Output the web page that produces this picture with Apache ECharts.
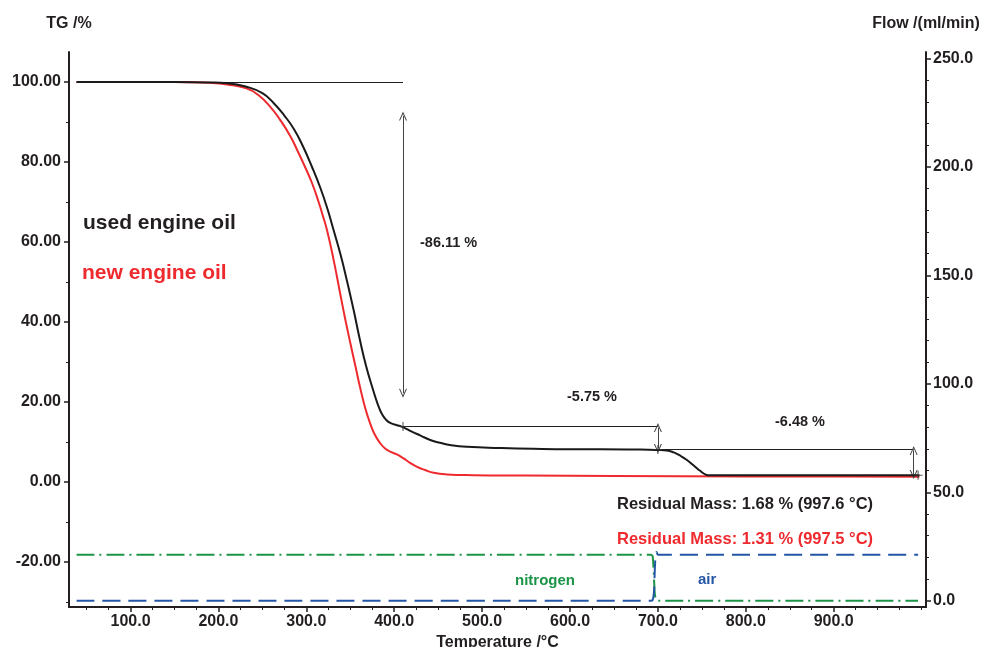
<!DOCTYPE html>
<html>
<head>
<meta charset="utf-8">
<script src="https://cdn.jsdelivr.net/npm/echarts@6/dist/echarts.min.js"></script>
<style>html,body{margin:0;padding:0;background:#fff;}#c{width:981px;height:647px;}</style>
</head>
<body>
<div id="c"></div>
<script>
// ---- data ----
var usedOil = [
  [38.6,100],[150,100],[190,99.9],[210,99.7],[232,98.8],[250,97.2],[263,94.7],[275,91.6],[286,88.2],
  [296,84],[306,79],[316,73.5],[324,68.3],[331,63],[339,56.8],[346,50.5],[354,42.8],[361,35.5],
  [368,29],[376,23],[381,19.6],[386,17],[391,15.5],[396,14.7],[403,14.2],[409,13.8],[420,12.6],
  [430,11.6],[441,10.5],[452,9.8],[465,9.2],[483,8.8],[520,8.5],
  [558,8.3],[600,8.2],[634,8.2],[680,8.1],[700,8.0],[710,7.9],[718,7.4],[726,6.5],[733,5.5],[742,3.9],
  [748,2.8],[753,2.0],[757,1.7],[800,1.68],[900,1.68],[997.6,1.68]
];
var newOil = [
  [38.6,100],[150,100],[190,99.8],[210,99.4],[232,98.4],[245,96.8],[259,93.8],[270,90.6],[282,86.4],
  [290,82.8],[297,79.5],[306,75],[314,70],[319,66.4],[323.5,63],[331,55.6],[338.6,47],[344,41],[350,34.8],
  [356,28.8],[361,23.8],[367,18.5],[372.7,14.6],[378,11.8],[384,9.7],[390,8.3],[395.5,7.6],[403,6.9],
  [410.6,5.9],[418,4.8],[426,3.8],[435,3.0],[445,2.3],[460,1.9],[490,1.7],[550,1.6],[650,1.5],
  [800,1.4],[900,1.35],[997.5,1.31]
];
var nitrogenFlow = [[38.6,21.2],[692,21.2],[694,20.5],[695,15],[696.5,3],[698,0.3],[700,0],[996,0]];
var airFlow = [[38.6,0],[692,0],[694,0.3],[695.5,4],[696.5,15],[697.5,21.5],[698.5,22.5],[700,21.2],[996,21.2]];

// step analysis annotations
var stepLines = [ [[38.6,100],[410,100]], [[410,13.89],[700,13.89]], [[700,8.14],[991,8.14]] ];
var stepArrows = [ [[410,91.5],[410,22.2]], [[700,13.6],[700,8.4]], [[991,7.9],[991,1.9]] ];
var stepMarks = [[410,13.89],[700,8.14],[996,1.68]];

var xMajor = [100,200,300,400,500,600,700,800,900];
var xMinor = [50,75,125,150,175,225,250,275,325,350,375,425,450,475,525,550,575,625,650,675,725,750,775,825,850,875,925,950,975,1000];
var tgMajor = [-20,0,20,40,60,80,100];
var tgMinor = [-30,-10,10,30,50,70,90];
var flowMajor = [0,50,100,150,200,250];
var flowMinor = [10,20,30,40,60,70,80,90,110,120,130,140,160,170,180,190,210,220,230,240];

var INK = '#231f20';
var FONT = '"Liberation Sans", Arial, Helvetica, sans-serif';
var chart = echarts.init(document.getElementById('c'), null, {renderer:'canvas'});

function lbl(extra){ return Object.assign({color:INK, fontFamily:FONT, fontWeight:'bold', fontSize:16}, extra||{}); }

var chevron = 'path://M0,9 L4.5,0 L9,9 L7.8,9 L4.5,2.4 L1.2,9 Z';
var plus = 'path://M0,4.4 L10,4.4 L10,5.6 L0,5.6 Z M4.4,0 L5.6,0 L5.6,10 L4.4,10 Z';

chart.setOption({
  animation:false,
  backgroundColor:'#fff',
  grid:{left:69,right:55,top:52,bottom:40,containLabel:false,outerBoundsMode:'none'},
  xAxis:[
    {type:'value',min:30,max:1005,position:'bottom',
     axisLine:{show:true,onZero:false,lineStyle:{color:INK,width:2}},
     axisTick:{show:true,customValues:xMajor,length:5,lineStyle:{color:INK,width:1.5}},
     axisLabel:lbl({customValues:xMajor,margin:7,formatter:function(v){return v.toFixed(1);}}),
     splitLine:{show:false},
     name:'Temperature /°C',nameLocation:'middle',nameGap:25,
     nameTextStyle:lbl({fontSize:16})},
    {type:'value',min:30,max:1005,position:'bottom',
     axisLine:{show:false,onZero:false},
     axisTick:{show:true,customValues:xMinor,length:3,lineStyle:{color:INK,width:1}},
     axisLabel:{show:false},splitLine:{show:false}}
  ],
  yAxis:[
    {type:'value',min:-31.25,max:107.5,position:'left',
     axisLine:{show:true,onZero:false,lineStyle:{color:INK,width:2}},
     axisTick:{show:true,customValues:tgMajor,length:5,lineStyle:{color:INK,width:1.5}},
     axisLabel:lbl({customValues:tgMajor,margin:8,formatter:function(v){return v.toFixed(2);}}),
     splitLine:{show:false},
     name:'TG /%',nameLocation:'end',nameGap:20,
     nameTextStyle:lbl({fontSize:16,align:'center',verticalAlign:'bottom'})},
    {type:'value',min:-31.25,max:107.5,position:'left',
     axisLine:{show:false,onZero:false},
     axisTick:{show:true,customValues:tgMinor,length:3,lineStyle:{color:INK,width:1}},
     axisLabel:{show:false},splitLine:{show:false}},
    {type:'value',min:-2.9,max:253,position:'right',
     axisLine:{show:true,onZero:false,lineStyle:{color:INK,width:2}},
     axisTick:{show:true,customValues:flowMajor,length:5,lineStyle:{color:INK,width:1.5}},
     axisLabel:lbl({customValues:flowMajor,margin:7,formatter:function(v){return v.toFixed(1);}}),
     splitLine:{show:false},
     name:'Flow /(ml/min)',nameLocation:'end',nameGap:20,
     nameTextStyle:lbl({fontSize:16,align:'center',verticalAlign:'bottom'})},
    {type:'value',min:-2.9,max:253,position:'right',
     axisLine:{show:false,onZero:false},
     axisTick:{show:true,customValues:flowMinor,length:3,lineStyle:{color:INK,width:1}},
     axisLabel:{show:false},splitLine:{show:false}}
  ],
  series:[
    {name:'nitrogen',type:'line',xAxisIndex:0,yAxisIndex:2,data:nitrogenFlow,showSymbol:false,smooth:0.2,
     lineStyle:{color:'#1b9447',width:2,type:[18,5,2,5]},z:2},
    {name:'air',type:'line',xAxisIndex:0,yAxisIndex:2,data:airFlow,showSymbol:false,smooth:0.2,
     lineStyle:{color:'#2456a6',width:2,type:[18,8]},z:2},
    {name:'steps',type:'line',xAxisIndex:0,yAxisIndex:0,data:[],
     markLine:{silent:true,symbol:'none',animation:false,label:{show:false},
       lineStyle:{color:INK,width:1,type:'solid'},
       data:stepLines.map(function(s){return [{coord:s[0]},{coord:s[1]}];})},z:3},
    {name:'arrows',type:'line',xAxisIndex:0,yAxisIndex:0,data:[],
     markLine:{silent:true,symbol:[chevron,chevron],symbolSize:[8,9],animation:false,label:{show:false},
       lineStyle:{color:'#444',width:1,type:'solid'},itemStyle:{color:'#444'},
       data:stepArrows.map(function(s){return [{coord:s[0]},{coord:s[1]}];})},z:3},
    {name:'used engine oil',type:'line',xAxisIndex:0,yAxisIndex:0,data:usedOil,showSymbol:false,
     smooth:0.5,lineStyle:{color:'#1a1a1a',width:2},z:5},
    {name:'new engine oil',type:'line',xAxisIndex:0,yAxisIndex:0,data:newOil,showSymbol:false,
     smooth:0.5,lineStyle:{color:'#ee2a2e',width:2},z:4},
    {name:'marks',type:'scatter',xAxisIndex:0,yAxisIndex:0,data:stepMarks,symbol:plus,symbolSize:9,
     itemStyle:{color:'#333'},z:6,silent:true}
  ],
  graphic:[
    {type:'text',left:83,top:213,style:{text:'used engine oil',fill:'#231f20',font:'bold 21px '+FONT}},
    {type:'text',left:82,top:263,style:{text:'new engine oil',fill:'#ee2a2e',font:'bold 21px '+FONT}},
    {type:'text',left:420,top:235,style:{text:'-86.11 %',fill:'#231f20',font:'bold 14.5px '+FONT}},
    {type:'text',left:567,top:389,style:{text:'-5.75 %',fill:'#231f20',font:'bold 14.5px '+FONT}},
    {type:'text',left:775,top:414,style:{text:'-6.48 %',fill:'#231f20',font:'bold 14.5px '+FONT}},
    {type:'text',left:617,top:496,style:{text:'Residual Mass: 1.68 % (997.6 °C)',fill:'#231f20',font:'bold 16.5px '+FONT}},
    {type:'text',left:617,top:531,style:{text:'Residual Mass: 1.31 % (997.5 °C)',fill:'#ee2a2e',font:'bold 16.5px '+FONT}},
    {type:'text',left:515,top:573,style:{text:'nitrogen',fill:'#1b9447',font:'bold 15px '+FONT}},
    {type:'text',left:698,top:572,style:{text:'air',fill:'#2456a6',font:'bold 15px '+FONT}}
  ]
});
</script>
</body>
</html>
